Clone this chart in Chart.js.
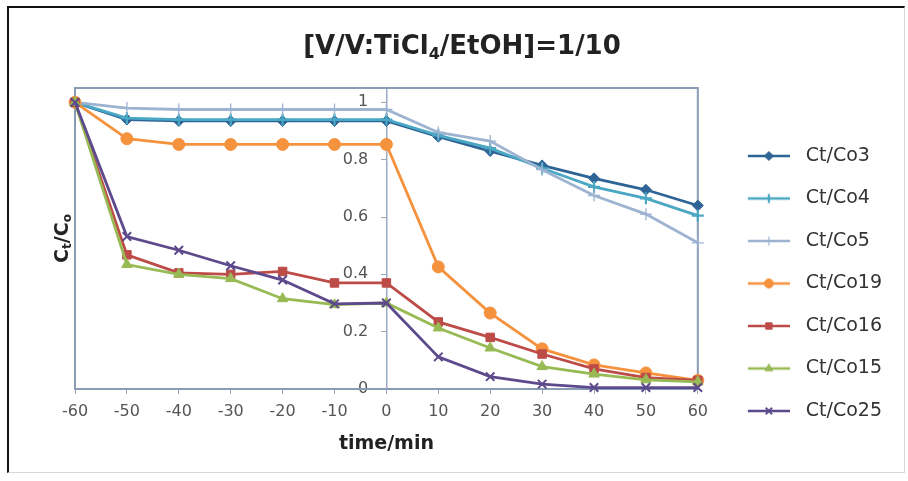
<!DOCTYPE html>
<html>
<head>
<meta charset="utf-8">
<script src="https://cdn.jsdelivr.net/npm/chart.js@4/dist/chart.umd.min.js"></script>
<style>
  html, body { margin: 0; padding: 0; background: #ffffff; }
  #frame { position: absolute; left: 7px; top: 6px; width: 898px; height: 467px;
           border-top: 2px solid #111; border-left: 2px solid #111;
           border-right: 1px solid #d8d8d8; border-bottom: 1px solid #d8d8d8; box-sizing: border-box; }
  #wrap { position: absolute; left: 0; top: 0; width: 908px; height: 481px; }
</style>
</head>
<body>
<div id="frame"></div>
<div id="wrap"><canvas id="c" width="908" height="481"></canvas></div>
<script>
const times = [-60, -50, -40, -30, -20, -10, 0, 10, 20, 30, 40, 50, 60];
const seriesNames = ['Ct/Co3', 'Ct/Co4', 'Ct/Co5', 'Ct/Co19', 'Ct/Co16', 'Ct/Co15', 'Ct/Co25'];
const co3  = [1, 0.94, 0.935, 0.935, 0.935, 0.935, 0.935, 0.88, 0.83, 0.78, 0.735, 0.695, 0.64];
const co4  = [1, 0.945, 0.94, 0.94, 0.94, 0.94, 0.94, 0.885, 0.84, 0.77, 0.705, 0.665, 0.605];
const co5  = [1, 0.98, 0.975, 0.975, 0.975, 0.975, 0.975, 0.895, 0.865, 0.765, 0.675, 0.61, 0.51];
const co19 = [1, 0.873, 0.853, 0.853, 0.853, 0.853, 0.853, 0.426, 0.265, 0.14, 0.084, 0.056, 0.03];
const co16 = [1, 0.468, 0.405, 0.40, 0.41, 0.37, 0.37, 0.234, 0.18, 0.122, 0.07, 0.04, 0.03];
const co15 = [1, 0.434, 0.40, 0.385, 0.315, 0.294, 0.30, 0.213, 0.143, 0.078, 0.052, 0.032, 0.025];
const co25 = [1, 0.532, 0.484, 0.43, 0.38, 0.297, 0.30, 0.112, 0.043, 0.017, 0.005, 0.005, 0.005];
const titleParts = ['[V/V:TiCl', '4', '/EtOH]=1/10'];
const xTitle = 'time/min';
const yTitleParts = ['C', 't', '/C', 'o'];

const values = [co3, co4, co5, co19, co16, co15, co25];
const colors = ['#2f6496', '#4aa8c4', '#9db3d2', '#f5923e', '#bd4b48', '#98ba55', '#5d4a8c'];
const markers = ['rectRot', 'cross', 'cross', 'circle', 'rect', 'triangle', 'crossRot'];
const radii = [5.5, 6, 6, 6, 6, 6, 6];
const mborder = [1, 2.2, 1.3, 1, 1, 1, 2];

function legendImage(i) {
  const cv = document.createElement('canvas');
  cv.width = 62; cv.height = 16;
  const g = cv.getContext('2d');
  g.strokeStyle = colors[i]; g.fillStyle = colors[i];
  g.lineWidth = 2.5;
  g.beginPath(); g.moveTo(20, 8); g.lineTo(62, 8); g.stroke();
  g.lineWidth = mborder[i];
  Chart.helpers.drawPoint(g, {pointStyle: markers[i], radius: 4.5, rotation: 0, borderWidth: mborder[i]}, 41, 8);
  return cv;
}

const datasets = values.map((arr, i) => ({
  label: seriesNames[i],
  data: arr.map((v, k) => ({x: times[k], y: v})),
  borderColor: colors[i],
  backgroundColor: colors[i],
  borderWidth: 2.8,
  pointStyle: markers[i],
  pointRadius: radii[i],
  pointBorderWidth: mborder[i],
  pointBorderColor: colors[i],
  pointBackgroundColor: colors[i],
  tension: 0,
  clip: false,
  order: values.length - i
}));

const framePlugin = {
  id: 'framePlugin',
  beforeDatasetsDraw(chart) {
    const {ctx, chartArea: a} = chart;
    ctx.save();
    ctx.strokeStyle = '#8a9bb5';
    ctx.lineWidth = 2;
    ctx.strokeRect(a.left, a.top, a.right - a.left, a.bottom - a.top);
    ctx.restore();
  },
  afterDraw(chart) {
    const {ctx, chartArea: a} = chart;
    ctx.save();
    ctx.fillStyle = '#222';
    ctx.textBaseline = 'alphabetic';
    const big = 'bold 26px "DejaVu Sans"', small = 'bold 16px "DejaVu Sans"';
    ctx.font = big; const w0 = ctx.measureText(titleParts[0]).width;
    ctx.font = small; const w1 = ctx.measureText(titleParts[1]).width;
    ctx.font = big; const w2 = ctx.measureText(titleParts[2]).width;
    let x = 462 - (w0 + w1 + w2) / 2;
    const base = 54;
    ctx.font = big; ctx.fillText(titleParts[0], x, base); x += w0;
    ctx.font = small; ctx.fillText(titleParts[1], x, base + 5); x += w1;
    ctx.font = big; ctx.fillText(titleParts[2], x, base);
    ctx.translate(61, (a.top + a.bottom) / 2);
    ctx.rotate(-Math.PI / 2);
    const f1 = 'bold 19px "DejaVu Sans"', f2 = 'bold 12px "DejaVu Sans"';
    const ws = yTitleParts.map((t, k) => { ctx.font = k % 2 ? f2 : f1; return ctx.measureText(t).width; });
    let yx = -ws.reduce((s, v) => s + v, 0) / 2;
    yTitleParts.forEach((t, k) => {
      ctx.font = k % 2 ? f2 : f1;
      ctx.fillText(t, yx, k % 2 ? 10 : 7);
      yx += ws[k];
    });
    ctx.restore();
  }
};

new Chart(document.getElementById('c'), {
  type: 'line',
  data: { datasets },
  plugins: [framePlugin],
  options: {
    responsive: false,
    animation: false,
    layout: { padding: { left: 75, top: 88, right: 16, bottom: 37 } },
    plugins: {
      title: { display: false },
      tooltip: { enabled: false },
      legend: {
        position: 'right',
        align: 'end',
        labels: {
          usePointStyle: true,
          pointStyleWidth: 75,
          padding: 23.5,
          color: '#333',
          font: { family: '"DejaVu Sans"', size: 19 },
          sort: (a, b) => a.datasetIndex - b.datasetIndex,
          generateLabels(chart) {
            return chart.data.datasets.map((ds, i) => ({
              text: ds.label,
              datasetIndex: i,
              pointStyle: legendImage(i),
              fillStyle: ds.backgroundColor,
              strokeStyle: ds.borderColor,
              lineWidth: 0,
              hidden: false,
              fontColor: '#333'
            }));
          }
        }
      }
    },
    scales: {
      x: {
        type: 'linear',
        position: 'bottom',
        min: -60, max: 60,
        ticks: { stepSize: 10, color: '#555', padding: 8, font: { family: '"DejaVu Sans"', size: 16 } },
        grid: { display: true, drawOnChartArea: false, drawTicks: true, tickLength: 5, color: '#9aa8bd' },
        border: { display: true, color: '#8a9bb5', width: 2 },
        title: { display: true, text: xTitle, color: '#222',
                 font: { family: '"DejaVu Sans"', size: 19, weight: 'bold' },
                 padding: { top: 3.4, bottom: -11.4 } }
      },
      y: {
        type: 'linear',
        position: { x: 0 },
        min: 0, max: 1.05,
        ticks: { stepSize: 0.2, includeBounds: false, color: '#555',
                 font: { family: '"DejaVu Sans"', size: 16 },
                 callback: (v) => String(Number(v.toFixed(1))) + '\u2007\u2002' },
        grid: { display: true, drawOnChartArea: false, drawTicks: true, tickLength: 5, color: '#9aa8bd' },
        border: { display: true, color: '#9aaac2', width: 1.5 }
      }
    }
  }
});
</script>
</body>
</html>
